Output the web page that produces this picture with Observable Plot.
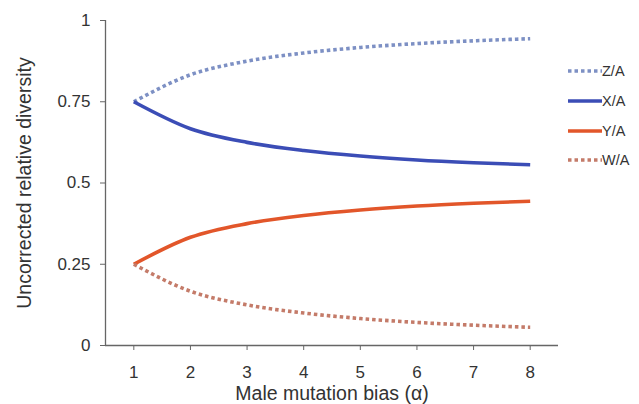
<!DOCTYPE html>
<html>
<head>
<meta charset="utf-8">
<script src="https://cdn.jsdelivr.net/npm/d3@7"></script>
<script src="https://cdn.jsdelivr.net/npm/@observablehq/plot@0.6"></script>
<style>
  body { margin: 0; background: #fff; font-family: "Liberation Sans", Arial, sans-serif; }
  #wrap { position: relative; width: 639px; height: 404px; }
  #legend { position: absolute; left: 568px; top: 0; }
  .item { position: absolute; left: 0; display: flex; align-items: center; white-space: nowrap; font-size: 14.5px; color: #333; }
  .item svg { display: block; margin-right: 0px; }
</style>
</head>
<body>
<div id="wrap"><div id="legend"></div></div>
<script>
const alpha = [1, 2, 3, 4, 5, 6, 7, 8];
const zA = [0.75, 0.833, 0.875, 0.9, 0.917, 0.929, 0.9375, 0.944];
const xA = [0.75, 0.667, 0.625, 0.6, 0.583, 0.571, 0.5625, 0.556];
const yA = [0.25, 0.333, 0.375, 0.4, 0.417, 0.429, 0.4375, 0.444];
const wA = [0.25, 0.167, 0.125, 0.1, 0.083, 0.071, 0.0625, 0.056];
const seriesNames = ["Z/A", "X/A", "Y/A", "W/A"];
const seriesValues = [zA, xA, yA, wA];
const seriesColors = ["#7d90c4", "#3b4db6", "#e2562a", "#c47b69"];
const seriesDash = ["3.5,3", null, null, "3.5,3"];
const xTicks = [1, 2, 3, 4, 5, 6, 7, 8];
const yTicks = [0, 0.25, 0.5, 0.75, 1];
const xDomain = [0.5, 8.5];
const yDomain = [0, 1];
const xLabel = "Male mutation bias (α)";
const yLabel = "Uncorrected relative diversity";

const rows = [];
seriesNames.forEach((s, i) => alpha.forEach((a, j) => rows.push({series: s, a, v: seriesValues[i][j]})));

const lineMarks = seriesNames.map((s, i) => Plot.line(rows.filter(r => r.series === s), {
  x: "a", y: "v", stroke: seriesColors[i], strokeWidth: 3.6,
  strokeDasharray: seriesDash[i] || undefined, strokeLinecap: "butt",
  curve: "monotone-x"
}));

const chart = Plot.plot({
  width: 639, height: 404,
  marginLeft: 105, marginRight: 81, marginTop: 20, marginBottom: 59,
  style: {fontFamily: "Liberation Sans, Arial, sans-serif", fontSize: "17px", color: "#333", background: "#fff"},
  x: {domain: xDomain},
  y: {domain: yDomain},
  marks: [
    Plot.axisX({ticks: xTicks, tickSize: 5, tickPadding: 15, stroke: "#666", tickFormat: d => String(d),
      label: xLabel, labelAnchor: "center", labelOffset: 54, labelArrow: "none"}),
    Plot.axisY({ticks: yTicks, tickSize: 5, tickPadding: 10, stroke: "#666", tickFormat: d => String(d),
      label: yLabel, labelAnchor: "center", labelOffset: 88, labelArrow: "none"}),
    Plot.ruleX([xDomain[0]], {stroke: "#666", strokeWidth: 1.3}),
    Plot.ruleY([yDomain[0]], {stroke: "#666", strokeWidth: 1.3}),
    ...lineMarks
  ]
});
chart.querySelectorAll("text").forEach(t => {
  t.style.fill = "#333";
  t.style.fontFamily = "Liberation Sans, Arial, sans-serif";
  t.style.fontSize = (t.textContent === xLabel || t.textContent === yLabel) ? "19.5px" : "17px";
});
document.getElementById("wrap").prepend(chart);

const legend = document.getElementById("legend");
const legendTops = [71, 101, 131, 160];
seriesNames.forEach((s, i) => {
  const d = document.createElement("div");
  d.className = "item";
  d.style.top = (legendTops[i] - 9) + "px";
  d.innerHTML = `<svg width="34" height="18"><line x1="0" x2="34" y1="9" y2="9" stroke="${seriesColors[i]}" stroke-width="3.6" ${seriesDash[i] ? `stroke-dasharray="${seriesDash[i]}"` : ""}/></svg><span>${s}</span>`;
  legend.appendChild(d);
});
</script>
</body>
</html>
